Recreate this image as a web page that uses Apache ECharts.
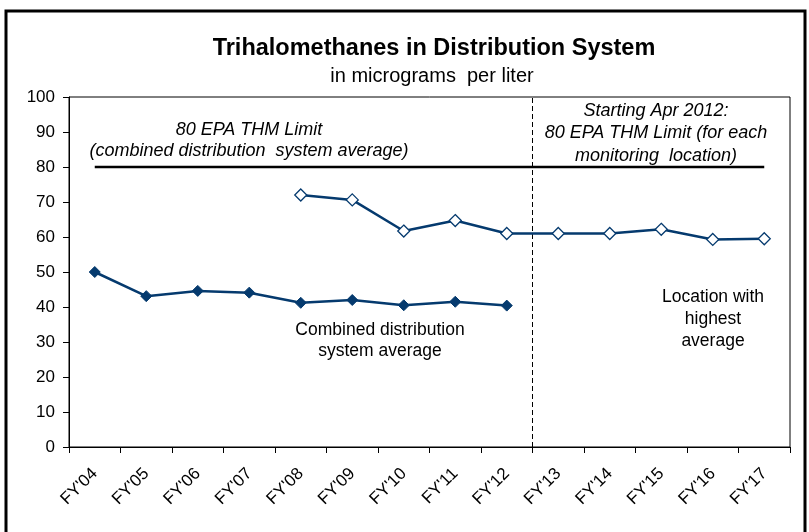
<!DOCTYPE html>
<html>
<head>
<meta charset="utf-8">
<script src="https://cdn.jsdelivr.net/npm/echarts@6/dist/echarts.min.js"></script>
<style>
html,body{margin:0;padding:0;background:#fff;}
#chart{width:809px;height:532px;}
</style>
</head>
<body>
<div id="chart"></div>
<script>
var categories = ["FY'04","FY'05","FY'06","FY'07","FY'08","FY'09","FY'10","FY'11","FY'12","FY'13","FY'14","FY'15","FY'16","FY'17"];
var combinedAvg = [50.0, 43.1, 44.6, 44.1, 41.2, 42.0, 40.5, 41.5, 40.4, null, null, null, null, null];
var highestLocation = [null, null, null, null, 72.0, 70.6, 61.7, 64.7, 61.0, 61.0, 61.0, 62.2, 59.3, 59.5];
var epaLimit = [80, 80, 80, 80, 80, 80, 80, 80, 80, 80, 80, 80, 80, 80];
var dividerPos = [[9, 0], [9, 100]];
var yTicks = {min: 0, max: 100, interval: 10};

var NAVY = '#053a6e';
var FONT = 'Liberation Sans, Arial, sans-serif';

var chart = echarts.init(document.getElementById('chart'), null, {renderer: 'canvas'});
chart.setOption({
  animation: false,
  backgroundColor: '#fff',
  grid: {left: 69, right: 19, top: 97, bottom: 85, show: true, borderColor: '#000', borderWidth: 1, backgroundColor: 'transparent'},
  xAxis: [{
    type: 'category',
    data: categories,
    boundaryGap: true,
    axisLine: {lineStyle: {color: '#000', width: 1}},
    axisTick: {show: true, length: 6, lineStyle: {color: '#000'}},
    axisLabel: {rotate: 45, margin: 24, color: '#000', fontSize: 17, fontFamily: FONT, interval: 0},
    splitLine: {show: false}
  }, {
    type: 'value', min: 0, max: 14, show: false, position: 'bottom'
  }],
  yAxis: {
    type: 'value',
    min: yTicks.min, max: yTicks.max, interval: yTicks.interval,
    axisLine: {show: true, lineStyle: {color: '#000', width: 1}},
    axisTick: {show: true, length: 6, lineStyle: {color: '#000'}},
    axisLabel: {color: '#000', fontSize: 17, fontFamily: FONT, margin: 14},
    splitLine: {show: false}
  },
  series: [
    {
      name: 'limit', type: 'line', data: epaLimit, symbol: 'none',
      lineStyle: {color: '#000', width: 2.5}, z: 2
    },
    {
      name: 'divider', type: 'line', xAxisIndex: 1, data: dividerPos, symbol: 'none',
      lineStyle: {color: '#000', width: 1, type: [5, 3]}, z: 1
    },
    {
      name: 'Combined distribution system average', type: 'line', data: combinedAvg,
      symbol: 'diamond', symbolSize: [11, 11], connectNulls: false,
      lineStyle: {color: NAVY, width: 2.5},
      itemStyle: {color: NAVY, borderColor: NAVY, borderWidth: 1}, z: 3
    },
    {
      name: 'Location with highest average', type: 'line', data: highestLocation,
      symbol: 'diamond', symbolSize: [12, 12], connectNulls: false,
      lineStyle: {color: NAVY, width: 2.5},
      itemStyle: {color: '#fff', borderColor: NAVY, borderWidth: 1.3}, z: 4
    }
  ],
  graphic: [
    {type: 'rect', shape: {x: 6, y: 11, width: 799, height: 540}, style: {fill: 'none', stroke: '#000', lineWidth: 3}, z: 100, silent: true},
    {type: 'text', x: 434, y: 49, style: {text: 'Trihalomethanes in Distribution System', fontSize: 23.5, fontWeight: 'bold', fontFamily: FONT, fill: '#000', align: 'center', verticalAlign: 'middle'}},
    {type: 'text', x: 432, y: 76, style: {text: 'in micrograms  per liter', fontSize: 20, fontFamily: FONT, fill: '#000', align: 'center', verticalAlign: 'middle'}},
    {type: 'text', x: 249, y: 140, style: {text: '80 EPA THM Limit\n(combined distribution  system average)', fontSize: 18, fontStyle: 'italic', fontFamily: FONT, fill: '#000', align: 'center', verticalAlign: 'middle', lineHeight: 21}},
    {type: 'text', x: 656, y: 133, style: {text: 'Starting Apr 2012:\n80 EPA THM Limit (for each\nmonitoring  location)', fontSize: 18, fontStyle: 'italic', fontFamily: FONT, fill: '#000', align: 'center', verticalAlign: 'middle', lineHeight: 22.5}},
    {type: 'text', x: 380, y: 341, style: {text: 'Combined distribution\nsystem average', fontSize: 17.5, fontFamily: FONT, fill: '#000', align: 'center', verticalAlign: 'middle', lineHeight: 21}},
    {type: 'text', x: 713, y: 319, style: {text: 'Location with\nhighest\naverage', fontSize: 17.5, fontFamily: FONT, fill: '#000', align: 'center', verticalAlign: 'middle', lineHeight: 22}}
  ]
});
</script>
</body>
</html>
